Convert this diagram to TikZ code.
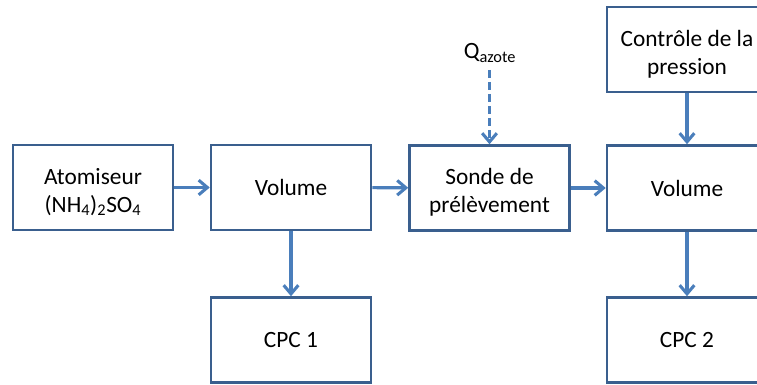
\documentclass[tikz,border=0pt]{standalone}
\usepackage{fontspec}
\setmainfont{Carlito}
\usetikzlibrary{arrows.meta}
\definecolor{boxc}{HTML}{3A5F8E}
\definecolor{arrc}{HTML}{4A7EBB}
\newcommand\twolines[1]{\raisebox{-4pt}[\height][\depth]{\begin{tabular}{@{}c@{}}#1\end{tabular}}}
\begin{document}
\begin{tikzpicture}[x=0.75pt,y=-0.75pt,
  blk/.style={draw=boxc,line width=1.9pt,fill=white,minimum width=120pt,minimum height=63.75pt,
    align=center,font=\fontsize{17.5}{21}\selectfont,text=black,inner sep=0pt},
  conn/.style={draw=arrc,line width=2.3pt,-{Straight Barb[length=6.5pt,width=11pt,line width=2.3pt]}},
  lbl/.style={font=\fontsize{17.5}{21}\selectfont,text=black,inner sep=0pt}]
\useasboundingbox (0,0) rectangle (757,385);
\clip (0,0) rectangle (757,385);
\node[blk] (atom) at (93,187.5) {\twolines{Atomiseur\\(NH\textsubscript{4})\textsubscript{2}SO\textsubscript{4}}};
\node[blk] (vol1) at (291,187.5) {Volume};
\node[blk] (sonde) at (489.5,188) {\twolines{Sonde de\\prélèvement}};
\node[blk] (vol2) at (687,188) {Volume};
\node[blk] (ctrl) at (687,49.5) {\twolines{Contrôle de la\\pression}};
\node[blk] (cpc1) at (291,340) {CPC 1};
\node[blk] (cpc2) at (687,340) {CPC 2};
\node[lbl] (qaz) at (490,53) {Q\textsubscript{azote}};
\coordinate (qs) at (489.5,70);
\draw[conn] (atom) -- (vol1);
\draw[conn] (vol1) -- (sonde);
\draw[conn] (sonde) -- (vol2);
\draw[conn] (vol1) -- (cpc1);
\draw[conn] (vol2) -- (cpc2);
\draw[conn] (ctrl) -- (vol2);
\draw[conn,dash pattern=on 6pt off 3pt] (qs) -- (sonde);
\end{tikzpicture}
\end{document}
